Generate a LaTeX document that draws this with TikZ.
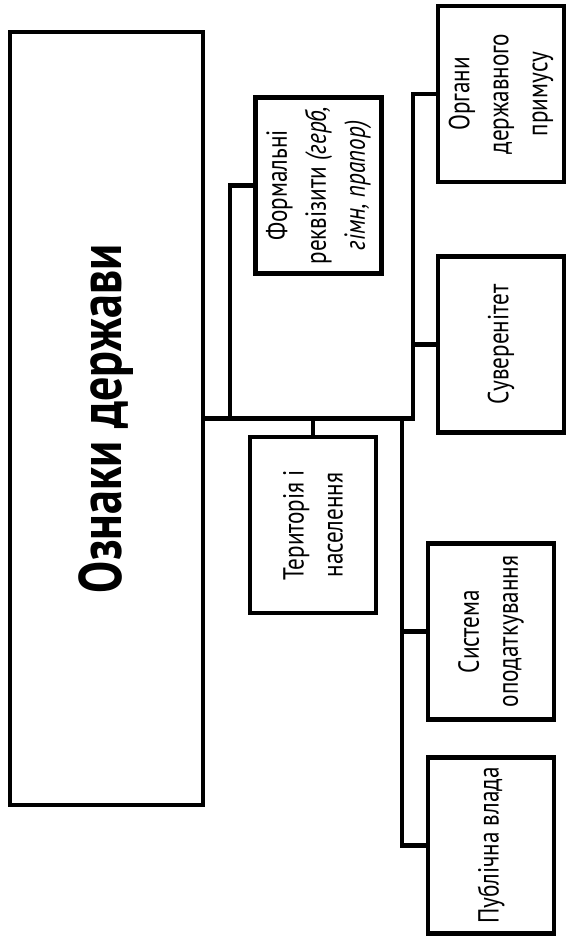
\documentclass[tikz,border=0pt]{standalone}
\usepackage{fontspec}
\setmainfont[FakeStretch=0.8]{PT Sans}
\begin{document}
\begin{tikzpicture}[x=1pt,y=-1pt,line width=4.5pt]
    \tikzset{sign/.style={draw, rotate=90, align=center, inner sep=0pt,
        minimum width=176pt, minimum height=126pt,
        font=\fontsize{29}{39}\selectfont}}
    \useasboundingbox (0,0) rectangle (566,937);
    % main box
    \node[sign, minimum width=773pt, minimum height=193pt,
        font=\bfseries\fontsize{60}{70}\selectfont] (main) at (106.5,418.5) {Ознаки держави};
    % signs
    \node[sign] (formal) at (318.5,185.5) {Формальні\\реквізити \textit{(герб,}\\\textit{гімн, прапор)}};
    \node[sign] (organy) at (501,94) {Органи\\державного\\примусу};
    \node[sign] (suveren) at (501,344.5) {Суверенітет};
    \node[sign] (terr) at (313,525) {Територія і\\населення};
    \node[sign] (systema) at (491,631.5) {Система\\оподаткування};
    \node[sign] (publ) at (491,845.5) {Публічна влада};
    % connectors
    \coordinate (formbus) at (230,418.5);
    \coordinate (downbus) at (402,418.5);
    \coordinate (upbus) at (413,418.5);
    \draw (main.south) -- (upbus) |- (organy.north);
    \draw (upbus) |- (suveren.north);
    \draw (formbus) |- (formal.north);
    \draw (terr.east) -- (terr.east |- main.south);
    \draw (downbus) |- (systema.north);
    \draw (downbus) |- (publ.north);
\end{tikzpicture}
\end{document}
